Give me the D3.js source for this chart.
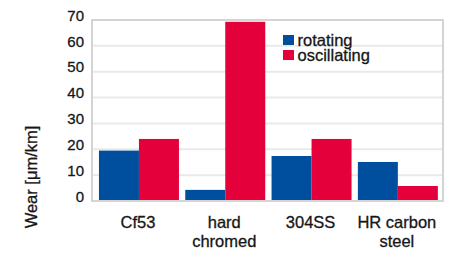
<!DOCTYPE html>
<html>
<head>
<meta charset="utf-8">
<script src="https://cdn.jsdelivr.net/npm/d3@7"></script>
<style>
  html, body { margin: 0; padding: 0; background: #fff; }
  svg { display: block; font-family: 'Liberation Sans', Arial, sans-serif; }
  svg text { fill: #161616; stroke: #161616; stroke-width: 0.3px; }
</style>
</head>
<body>
<svg id="chart" width="458" height="260"></svg>
<script>
// ── 데이터 ───────────────────────────────────────
const categories = [['Cf53'], ['hard', 'chromed'], ['304SS'], ['HR carbon', 'steel']];
const seriesNames = ['rotating', 'oscillating'];
const rotating = [19.5, 4.3, 17.4, 15.1];
const oscillating = [24.0, 69.3, 24.0, 5.8];
const yTicks = [0, 10, 20, 30, 40, 50, 60, 70];

const COLOR = { rotating: '#004f9f', oscillating: '#e4003a' };

const svg = d3.select('#chart');
const frame = { left: 92, right: 443, top: 20, bottom: 201 };

const y = d3.scaleLinear().domain([0, 70]).range([frame.bottom, frame.top]);
const x = d3.scaleBand()
  .domain(categories.map((c, i) => i))
  .range([95.8, 441])
  .paddingInner(0.073)
  .paddingOuter(0.0365);
const xs = d3.scaleBand().domain(seriesNames).range([0, x.bandwidth()]);

// 그리드
svg.append('g').selectAll('line')
  .data(yTicks.filter(t => t > 0 && t < 70))
  .join('line')
  .attr('x1', frame.left).attr('x2', frame.right)
  .attr('y1', d => y(d)).attr('y2', d => y(d))
  .attr('stroke', '#e9e9e9').attr('stroke-width', 2);

// 막대
const rows = categories.map((c, i) => ({ i, rotating: rotating[i], oscillating: oscillating[i] }));
svg.append('g').selectAll('g')
  .data(rows)
  .join('g')
  .attr('transform', d => `translate(${x(d.i)},0)`)
  .selectAll('rect')
  .data(d => seriesNames.map(s => ({ s, v: d[s] })))
  .join('rect')
  .attr('x', d => xs(d.s))
  .attr('width', xs.bandwidth())
  .attr('y', d => y(d.v))
  .attr('height', d => y(0) - y(d.v))
  .attr('fill', d => COLOR[d.s]);

// 프레임
svg.append('rect')
  .attr('x', frame.left).attr('y', frame.top)
  .attr('width', frame.right - frame.left)
  .attr('height', frame.bottom - frame.top)
  .attr('fill', 'none')
  .attr('stroke', '#d4d4d4').attr('stroke-width', 2);

// y축 눈금 레이블
svg.append('g').selectAll('text')
  .data(yTicks)
  .join('text')
  .attr('x', 84)
  .attr('y', d => y(d))
  .attr('dy', '0.05em')
  .attr('text-anchor', 'end')
  .attr('font-size', 15)
  .text(d => d);

// x축 레이블
svg.append('g').selectAll('text')
  .data(rows)
  .join('text')
  .attr('text-anchor', 'middle')
  .attr('font-size', 16.5)
  .attr('transform', d => `translate(${x(d.i) + x.bandwidth() / 2 - 1},228)`)
  .selectAll('tspan')
  .data(d => categories[d.i])
  .join('tspan')
  .attr('x', 0)
  .attr('dy', (d, k) => k === 0 ? 0 : 19)
  .text(d => d);

// y축 제목
svg.append('text')
  .attr('transform', 'translate(37,177) rotate(-90)')
  .attr('text-anchor', 'middle')
  .attr('font-size', 16.5)
  .text('Wear [μm/km]');

// 범례
const legend = svg.append('g').attr('transform', 'translate(283,35)');
legend.selectAll('g')
  .data(seriesNames)
  .join('g')
  .attr('transform', (d, i) => `translate(0,${i * 15})`)
  .call(g => g.append('rect')
    .attr('width', 11).attr('height', 10)
    .attr('fill', d => COLOR[d]))
  .call(g => g.append('text')
    .attr('x', 14.5).attr('y', 5).attr('dy', '0.36em')
    .attr('font-size', 16.5)
    .text(d => d));
</script>
</body>
</html>
